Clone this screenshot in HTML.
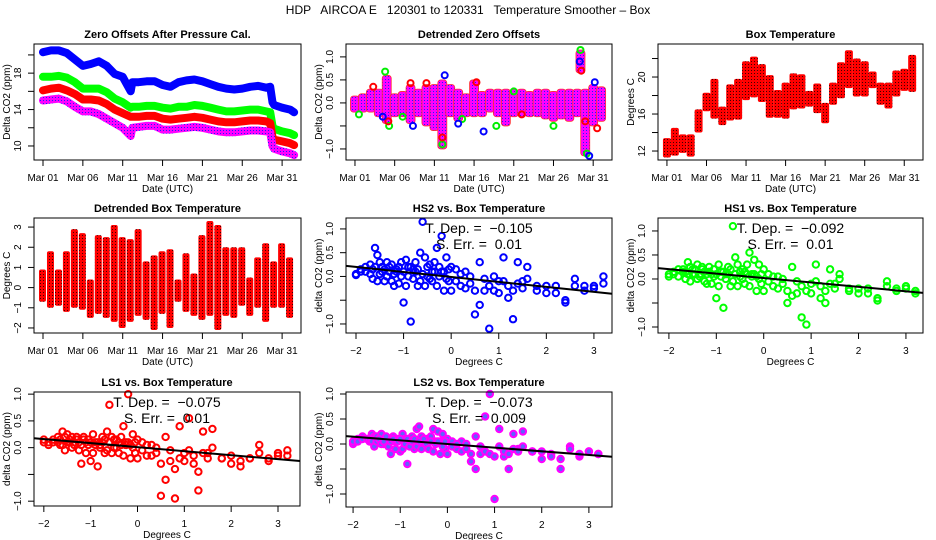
<!DOCTYPE html>
<html><head><meta charset="utf-8"><style>
body{margin:0;background:#fff}
svg{display:block;font-family:"Liberation Sans",sans-serif}
</style></head><body>
<svg id="chart" width="936" height="540" viewBox="0 0 936 540" xmlns="http://www.w3.org/2000/svg">
<defs>
<pattern id="redDot" width="3" height="3" patternUnits="userSpaceOnUse"><rect width="3" height="3" fill="#ff0000"/><rect x="1" y="1" width="1" height="1" fill="#400000"/></pattern>
<pattern id="purpDot" width="3" height="3" patternUnits="userSpaceOnUse"><rect width="3" height="3" fill="#ff00ff"/><rect x="1" y="1" width="1" height="1" fill="#2020ff"/></pattern>
</defs>
<text x="468" y="14" font-size="12" text-anchor="middle" style="white-space:pre">HDP   AIRCOA E   120301 to 120331   Temperature Smoother – Box</text>
</svg>
<script>
// ---- Panel 1: zero offsets ----
const p1Days=[0,1,2,3,4,5,6,7,8,9,10,11,11.2,12,13,14,15,16,17,18,19,20,21,22,23,24,25,26,27,28,28.5,28.8,29,30,31,31.5];
const p1Blue=[20.3,20.5,20.5,20.2,19.5,18.8,19.0,19.3,18.8,17.9,17.6,16.0,17.0,17.0,17.1,17.1,16.7,16.5,17.0,17.2,17.3,17.1,16.8,16.5,16.3,16.2,16.3,16.5,16.6,16.4,16.5,14.8,14.5,14.2,14.0,13.7];
const p1Green=[17.6,17.6,17.7,17.5,17.0,16.3,16.3,16.3,15.9,15.2,14.8,14.2,14.3,14.3,14.4,14.4,14.2,14.1,14.3,14.3,14.5,14.4,14.2,14.0,13.8,13.8,13.9,14.0,14.0,13.8,13.7,12.2,11.9,11.6,11.4,11.2];
const p1Red=[16.1,16.3,16.4,16.1,15.7,15.1,15.1,15.0,14.6,14.0,13.6,13.2,13.2,13.2,13.3,13.3,13.0,12.9,13.0,13.1,13.2,13.1,12.9,12.7,12.6,12.6,12.7,12.8,12.8,12.7,12.5,11.0,10.7,10.5,10.3,10.1];
const p1Purple=[15.0,15.1,15.2,14.9,14.3,13.8,13.8,13.5,13.0,12.5,12.0,11.1,12.0,12.1,12.2,12.2,11.8,11.8,11.9,12.0,12.1,12.0,11.8,11.6,11.5,11.5,11.6,11.7,11.7,11.6,11.5,10.0,9.7,9.4,9.2,9.0];
// ---- Panel 2: detrended zero offsets ----
const p2Days=[0,1,2,3,4,5,6,7,8,9,10,11,12,13,14,15,16,17,18,19,20,21,22,23,24,25,26,27,28,28.4,29,30,31];
const p2Lo=[-0.2,-0.2,-0.2,-0.3,-0.45,-0.3,-0.3,-0.45,-0.3,-0.5,-0.6,-1.0,-0.3,-0.4,-0.3,-0.3,-0.3,-0.2,-0.3,-0.5,-0.3,-0.3,-0.3,-0.3,-0.35,-0.4,-0.35,-0.4,-0.3,0.65,-1.15,-0.5,-0.4];
const p2Hi=[0.15,0.2,0.3,0.3,0.6,0.2,0.25,0.4,0.3,0.4,0.4,0.5,0.4,0.3,0.2,0.5,0.25,0.3,0.3,0.3,0.3,0.3,0.25,0.3,0.3,0.25,0.3,0.3,0.3,1.15,0.3,0.4,0.35];
const p2GreenDays=[3.8,4.3,11.0,28.4,29.2,17.8,25,13.5,0.5,6,20];
const p2GreenVals=[0.68,-0.5,-0.9,1.15,-1.1,-0.5,-0.5,-0.35,-0.25,-0.3,0.25];
const p2RedDays=[2.3,4.2,11,15.3,28.5,29,30.5,7,9,21];
const p2RedVals=[0.35,-0.4,-0.75,0.45,0.7,-0.4,-0.55,0.43,0.43,-0.25];
const p2BlueDays=[11.3,16.2,13,28.3,29.5,30.2,7.3,3.5];
const p2BlueVals=[0.6,-0.62,-0.45,0.9,-1.15,0.45,-0.5,-0.3];
// ---- Panel 3: box temperature ----
const p3Days=[0,1,2,3,4,5,6,7,8,9,10,11,12,13,14,15,16,17,18,19,20,21,22,23,24,25,26,27,28,29,30,31];
const p3Lo=[11.3,11.5,11.8,11.4,14.0,16.3,15.5,14.8,15.3,15.4,17.5,17.8,17.3,15.6,15.6,15.5,16.5,16.6,16.8,16.1,15.0,17.0,17.7,18.8,17.9,17.9,18.8,17.0,16.6,17.9,18.5,18.4];
const p3Hi=[13.4,14.5,13.8,13.8,16.5,18.3,19.8,16.8,19.2,19.8,21.7,22.2,21.4,20.2,18.6,19.4,20.4,20.3,18.5,19.3,17.2,19.4,21.6,22.9,22.0,21.7,20.6,19.4,19.4,20.7,20.9,22.4];
// ---- Panel 4: detrended box temperature ----
const p4Days=[0,1,2,3,4,5,6,7,8,9,10,11,12,13,14,15,16,17,18,19,20,21,22,23,24,25,26,27,28,29,30,31];
const p4Lo=[-0.7,-1.0,-0.9,-1.2,-1.0,-1.1,-1.5,-1.3,-1.5,-1.7,-2.0,-1.7,-1.4,-1.6,-2.1,-1.3,-2.0,-0.7,-1.2,-1.4,-1.6,-1.4,-2.1,-1.4,-1.5,-0.9,-1.4,-1.0,-1.7,-1.0,-1.0,-1.5];
const p4Hi=[0.9,1.8,0.9,1.8,2.9,2.7,0.4,2.6,2.5,3.1,2.5,2.4,2.9,1.3,1.6,1.8,1.9,0.4,1.7,0.7,2.6,3.3,3.1,2.0,2.0,2.0,0.5,1.5,2.2,1.3,2.2,1.5];
// ---- Scatter panels ----
const scX=[-2.0,-1.9,-1.8,-1.7,-1.65,-1.6,-1.55,-1.5,-1.45,-1.4,-1.35,-1.3,-1.25,-1.2,-1.15,-1.1,-1.05,-1.0,-0.95,-0.9,-0.85,-0.8,-0.75,-0.7,-0.65,-0.6,-0.55,-0.5,-0.45,-0.4,-0.35,-0.3,-0.25,-0.2,-0.15,-0.1,-0.05,0.0,0.1,0.2,0.3,0.4,0.5,0.6,0.7,0.8,0.9,1.0,1.1,1.2,1.3,1.4,1.5,1.6,1.8,2.0,2.2,2.4,2.6,2.8,3.0,3.2];
const hs2A=[0.03,0.1,0.2,0.25,-0.05,0.6,0.45,0.3,0.2,0.15,0.3,0.1,0.25,-0.2,0.1,0.2,0.3,-0.55,0.35,0.2,-0.95,0.15,0.3,-0.2,0.5,1.15,0.4,0.0,0.25,0.1,0.3,0.6,0.2,0.85,0.1,0.4,-0.1,0.2,0.15,-0.2,0.1,0.0,-0.8,-0.6,-0.3,-1.1,0.0,-0.1,0.4,-0.45,-0.9,0.3,-0.1,0.2,-0.2,-0.35,-0.2,-0.5,-0.05,-0.2,-0.25,0.0];
const hs2B=[0.05,0.15,0.1,0.05,0.15,0.2,-0.1,0.05,0.1,-0.1,0.0,0.2,-0.1,0.05,0.15,-0.15,0.0,0.1,-0.2,0.0,0.2,-0.05,0.1,0.15,-0.1,0.05,-0.2,0.2,-0.05,-0.1,0.1,-0.2,0.0,0.1,-0.3,-0.05,0.15,-0.3,-0.1,0.05,-0.25,-0.15,-0.3,0.3,-0.05,-0.2,-0.3,-0.35,-0.1,-0.2,-0.3,-0.15,-0.25,-0.05,-0.3,-0.2,-0.35,-0.55,-0.2,-0.3,-0.2,-0.15];
const hs1A=[0.1,0.15,0.2,0.15,0.0,0.35,0.25,0.2,0.1,0.3,0.05,0.2,0.15,-0.1,0.25,0.1,0.2,-0.4,0.3,0.15,-0.6,0.1,0.25,-0.15,1.1,0.45,0.3,0.05,0.2,0.15,0.3,0.55,0.1,0.4,0.05,0.3,-0.1,0.2,0.1,-0.15,0.05,0.0,-0.5,-0.35,-0.3,-0.8,-0.95,-0.1,0.3,-0.4,-0.5,0.2,-0.1,0.1,-0.2,-0.3,-0.2,-0.4,-0.05,-0.2,-0.2,-0.3];
const hs1B=[0.05,0.1,0.05,0.2,0.15,0.1,-0.05,0.1,0.2,0.0,0.1,0.25,-0.05,0.1,0.15,-0.1,0.05,0.1,-0.15,0.05,0.15,0.0,0.1,0.2,-0.05,0.1,-0.15,0.15,0.0,-0.1,0.1,-0.15,0.05,0.1,-0.25,0.0,0.1,-0.25,-0.05,0.05,-0.2,-0.1,-0.25,0.25,-0.05,-0.15,-0.25,-0.3,-0.05,-0.15,-0.25,-0.1,-0.2,0.0,-0.25,-0.2,-0.3,-0.45,-0.15,-0.25,-0.15,-0.25];
const ls1A=[0.15,0.1,0.15,0.2,0.05,0.3,0.2,0.25,0.1,0.2,0.05,0.15,0.1,-0.3,0.2,0.1,0.15,-0.25,0.25,0.1,-0.35,0.05,0.2,-0.1,0.3,0.8,0.2,0.0,0.15,0.1,0.2,0.4,0.1,1.0,0.05,0.25,-0.1,0.15,0.1,-0.15,0.05,0.0,-0.9,-0.6,-0.25,-0.95,0.4,-0.1,0.55,-0.3,-0.8,0.3,-0.1,0.35,-0.2,-0.3,-0.35,-0.2,0.05,-0.25,-0.15,-0.05];
const ls1B=[0.1,0.05,0.1,0.1,0.15,0.05,-0.05,0.1,0.15,0.0,0.1,0.2,-0.05,0.05,0.15,-0.1,0.05,0.1,-0.1,0.05,0.1,0.0,0.1,0.15,-0.05,0.1,-0.1,0.15,0.0,-0.1,0.05,-0.15,0.05,0.1,-0.2,0.0,0.1,-0.2,-0.05,0.05,-0.15,-0.1,-0.3,0.2,-0.05,-0.4,-0.2,-0.25,-0.05,-0.15,-0.45,-0.1,-0.2,0.0,-0.2,-0.15,-0.25,-0.2,-0.1,-0.2,-0.1,-0.15];
const ls2A=[0.0,0.1,0.15,0.1,0.05,0.2,0.15,0.15,0.1,0.2,0.0,0.1,0.1,-0.2,0.15,0.05,0.1,-0.15,0.2,0.1,-0.4,0.05,0.15,-0.1,0.3,0.35,0.15,0.0,0.1,0.1,0.15,0.3,0.05,0.25,0.05,0.2,-0.1,0.1,0.05,-0.1,0.05,0.0,-0.35,-0.5,-0.2,0.55,1.0,-1.1,0.3,-0.25,-0.5,0.2,-0.1,0.25,-0.15,-0.3,-0.2,-0.5,-0.05,-0.25,-0.15,-0.2];
const ls2B=[0.05,0.05,0.1,0.1,0.1,0.05,-0.05,0.05,0.1,0.0,0.05,0.15,-0.05,0.05,0.1,-0.1,0.05,0.1,-0.1,0.0,0.1,-0.05,0.05,0.1,-0.05,0.05,-0.1,0.1,0.0,-0.1,0.05,-0.15,0.0,0.05,-0.2,-0.05,0.05,-0.2,-0.05,0.0,-0.15,-0.1,-0.2,0.15,-0.05,-0.15,-0.2,-0.25,-0.05,-0.15,-0.2,-0.1,-0.15,-0.05,-0.15,-0.15,-0.25,-0.3,-0.1,-0.2,-0.15,-0.2];
const scSlopes=[-0.105,-0.092,-0.075,-0.073];
const scIntercepts=[-0.01,0.02,0.01,0.0];
const scSlopeLabels=["−0.105","−0.092","−0.075","−0.073"];
const scErrLabels=["0.01","0.01","0.01","0.009"];
const dateTicks=[0,5,10,15,20,25,30];
const dateTickLabels=["Mar 01","Mar 06","Mar 11","Mar 16","Mar 21","Mar 26","Mar 31"];
const tempTicks=[-2,-1,0,1,2,3];
const tempTickLabels=["−2","−1","0","1","2","3"];

const NS="http://www.w3.org/2000/svg";
const svg=document.getElementById('chart');
function mk(tag,attrs,parent){const e=document.createElementNS(NS,tag);for(const k in attrs)e.setAttribute(k,attrs[k]);(parent||svg).appendChild(e);return e;}

function panel(name,box,xr,yr,title,xTitle,yTitle,xT,xTL,yT,yTL){
  const g=mk('g',{});
  
  
  const W=box[2],H=box[3];
  const sx=v=>box[0]+(v-xr[0])/(xr[1]-xr[0])*W;
  const sy=v=>box[1]+H-(v-yr[0])/(yr[1]-yr[0])*H;
  const plot=mk('g',{},g);
  
  
  const fr=mk('rect',{x:box[0],y:box[1],width:W,height:H,fill:'none',stroke:'#000','stroke-width':1},g);
  
  
  const t=mk('text',{x:box[0]+W/2,y:box[1]-6,'font-size':11,'font-weight':'bold','text-anchor':'middle'},g);
  t.textContent=title;
  
  
  const xa=mk('g',{},g);
  
  
  mk('line',{x1:sx(xT[0]),x2:sx(xT[xT.length-1]),y1:box[1]+H,y2:box[1]+H,stroke:'#000'},xa);
  xT.forEach((v,i)=>{mk('line',{x1:sx(v),x2:sx(v),y1:box[1]+H,y2:box[1]+H+6,stroke:'#000'},xa);
    const l=mk('text',{x:sx(v),y:box[1]+H+21,'font-size':10,'text-anchor':'middle'},xa);l.textContent=xTL[i];
    
    });
  const xt=mk('text',{x:box[0]+W/2,y:box[1]+H+32,'font-size':10,'text-anchor':'middle'},g);xt.textContent=xTitle;
  
  
  const ya=mk('g',{},g);
  
  
  mk('line',{x1:box[0],x2:box[0],y1:sy(yT[0]),y2:sy(yT[yT.length-1]),stroke:'#000'},ya);
  yT.forEach((v,i)=>{mk('line',{x1:box[0]-6,x2:box[0],y1:sy(v),y2:sy(v),stroke:'#000'},ya);
    if(yTL[i]){const l=mk('text',{x:0,y:0,'font-size':10,'text-anchor':'middle',transform:`translate(${box[0]-13},${sy(v)}) rotate(-90)`},ya);l.textContent=yTL[i];
    
    }});
  const yt=mk('text',{x:0,y:0,'font-size':10,'text-anchor':'middle',transform:`translate(${box[0]-24},${box[1]+H/2}) rotate(-90)`},g);yt.textContent=yTitle;
  
  
  return {sx,sy,g:plot};
}
function pts(xs,ys,sx,sy){return xs.map((x,i)=>sx(x).toFixed(1)+','+sy(ys[i]).toFixed(1)).join(' ');}

// Panel 1
{const P=panel('zero-offsets-panel',[34,44,267,116],[-1.13,32.37],[8.46,21.2],'Zero Offsets After Pressure Cal.','Date (UTC)','Delta CO2 (ppm)',dateTicks,dateTickLabels,[10,12,14,16,18,20],['10','','14','','18','']);
 [[p1Blue,'#0000ff','hs2'],[p1Green,'#00ff00','hs1'],[p1Red,'#ff0000','ls1'],[p1Purple,'url(#purpDot)','ls2']].forEach(s=>{
  const l=mk('polyline',{points:pts(p1Days,s[0],P.sx,P.sy),fill:'none',stroke:s[1],'stroke-width':8,'stroke-linejoin':'round','stroke-linecap':'round'},P.g);
  
  });}
// Panel 2
{const P=panel('detrended-zero-offsets-panel',[346,44,266,116],[-1.13,32.37],[-1.24,1.28],'Detrended Zero Offsets','Date (UTC)','Delta CO2 (ppm)',dateTicks,dateTickLabels,[-1,-0.5,0,0.5,1],['−1.0','','0.0','0.5','1.0']);
 p2Days.forEach((d,i)=>{
  const r=mk('rect',{x:P.sx(d)-4.5,y:P.sy(p2Hi[i]),width:9,height:P.sy(p2Lo[i])-P.sy(p2Hi[i]),fill:'url(#purpDot)',stroke:'#ff3030','stroke-width':0.8,rx:3},P.g);
  
  });
 [[p2GreenDays,p2GreenVals,'#00ee00'],[p2RedDays,p2RedVals,'#ff0000'],[p2BlueDays,p2BlueVals,'#0000ff']].forEach(s=>{
  s[0].forEach((d,i)=>{const c=mk('circle',{cx:P.sx(d),cy:P.sy(s[1][i]),r:3,fill:'none',stroke:s[2],'stroke-width':2},P.g);
   
   });});}
// Panel 3
{const P=panel('box-temperature-panel',[658,44,265,116],[-1.13,32.37],[11.03,23.57],'Box Temperature','Date (UTC)','Degrees C',dateTicks,dateTickLabels,[12,14,16,18,20,22],['12','','16','','20','']);
 p3Days.forEach((d,i)=>{
  const r=mk('rect',{x:P.sx(d)-4,y:P.sy(p3Hi[i]),width:8,height:P.sy(p3Lo[i])-P.sy(p3Hi[i]),fill:'url(#redDot)',rx:2},P.g);
  
  });}
// Panel 4
{const P=panel('detrended-box-temperature-panel',[34,218,267,115],[-1.13,32.37],[-2.25,3.45],'Detrended Box Temperature','Date (UTC)','Degrees C',dateTicks,dateTickLabels,[-2,-1,0,1,2,3],['−2','−1','0','1','2','3']);
 p4Days.forEach((d,i)=>{
  const r=mk('rect',{x:P.sx(d)-4,y:P.sy(p4Hi[i]),width:7,height:P.sy(p4Lo[i])-P.sy(p4Hi[i]),fill:'url(#redDot)',rx:2},P.g);
  
  });}
// Scatter panels
const scDefs=[
 ['hs2-scatter-panel',[346,218,266,115],[-2.21,3.38],[-1.19,1.23],'HS2 vs. Box Temperature',[hs2A,hs2B],'#0000ff','none'],
 ['hs1-scatter-panel',[658,218,265,115],[-2.23,3.36],[-1.125,1.27],'HS1 vs. Box Temperature',[hs1A,hs1B],'#00ff00','none'],
 ['ls1-scatter-panel',[34,392,266,114],[-2.21,3.47],[-1.09,1.04],'LS1 vs. Box Temperature',[ls1A,ls1B],'#ff0000','none'],
 ['ls2-scatter-panel',[346,392,266,115],[-2.15,3.49],[-1.26,1.04],'LS2 vs. Box Temperature',[ls2A,ls2B],'#ff00ff','#6060ff']];
scDefs.forEach((d,k)=>{
 const P=panel(d[0],d[1],d[2],d[3],d[4],'Degrees C','delta CO2 (ppm)',tempTicks,tempTickLabels,[-1,-0.5,0,0.5,1],['−1.0','','0.0','0.5','1.0']);
 d[5].forEach(ys=>{const n=Math.min(scX.length,ys.length);for(let i=0;i<n;i++){
  const c=mk('circle',{cx:P.sx(scX[i]),cy:P.sy(ys[i]),r:3.2,fill:d[7],stroke:d[6],'stroke-width':2},P.g);
  
  }});
 const x0=d[2][0],x1=d[2][1];
 const ln=mk('line',{x1:P.sx(x0),y1:P.sy(scIntercepts[k]+scSlopes[k]*x0),x2:P.sx(x1),y2:P.sy(scIntercepts[k]+scSlopes[k]*x1),stroke:'#000','stroke-width':2},P.g);
 
 
 const cx=d[1][0]+d[1][2]/2;
 const t1=mk('text',{x:cx,y:d[1][1]+15,'font-size':14,'text-anchor':'middle',style:'white-space:pre'},P.g);t1.textContent='T. Dep. =  '+scSlopeLabels[k];
 
 
 const t2=mk('text',{x:cx,y:d[1][1]+31,'font-size':14,'text-anchor':'middle',style:'white-space:pre'},P.g);t2.textContent='S. Err. =  '+scErrLabels[k];
 
 
});
</script>
</body></html>
